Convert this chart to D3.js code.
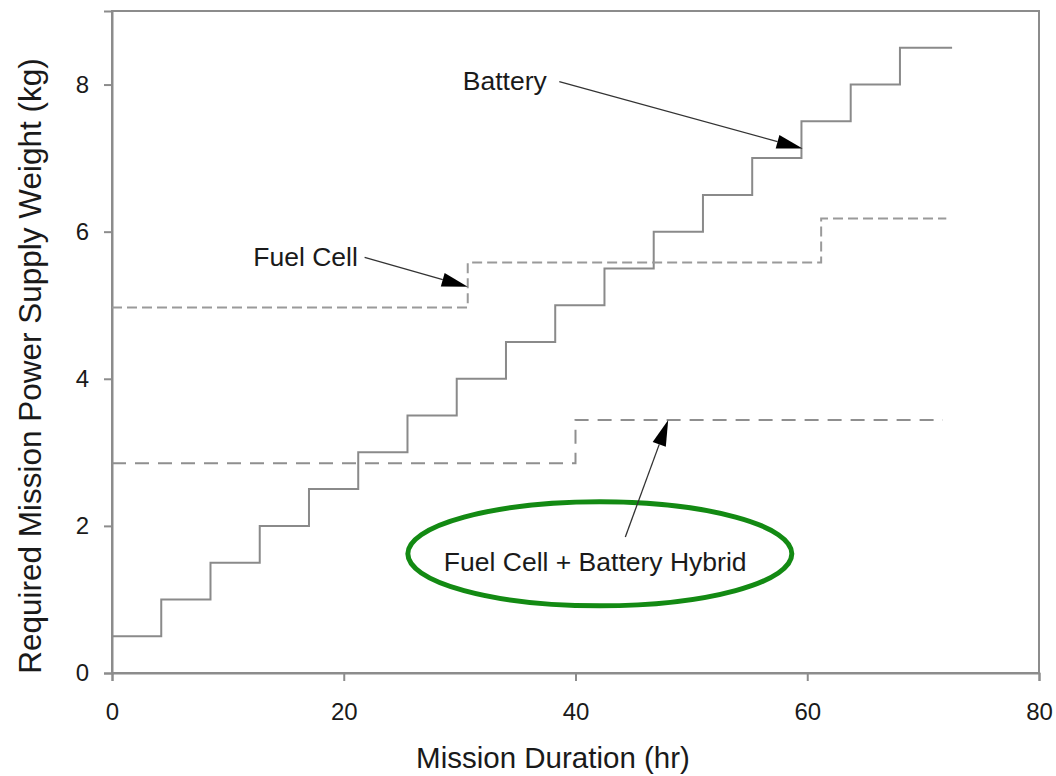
<!DOCTYPE html>
<html>
<head>
<meta charset="utf-8">
<script src="https://cdn.jsdelivr.net/npm/d3@7"></script>
<style>
  body { margin: 0; background: #fff; }
  svg { display: block; font-family: "Liberation Sans", Arial, sans-serif; }
</style>
</head>
<body>
<svg id="chart"></svg>
<script>
// step series: x = hour where a level starts, y = weight (kg)
const batteryX = [0, 4.25, 8.5, 12.75, 17, 21.25, 25.5, 29.75, 34, 38.25, 42.5, 46.75, 51, 55.25, 59.5, 63.75, 68, 72.5];
const batteryY = [0.5, 1, 1.5, 2, 2.5, 3, 3.5, 4, 4.5, 5, 5.5, 6, 6.5, 7, 7.5, 8, 8.5, 8.5];
const fuelCellX = [0, 30.7, 61.2, 72];
const fuelCellY = [4.97, 5.58, 6.18, 6.18];
const hybridX = [0, 40, 71.7];
const hybridY = [2.85, 3.44, 3.44];

const xTicks = [0, 20, 40, 60, 80];
const yTicks = [0, 2, 4, 6, 8];

// annotations: label position and arrow (from -> to) in data units
const annotations = [
  { text: "Battery", tx: 33.9, ty: 8.05, x1: 38.6, y1: 8.04, x2: 59.6, y2: 7.13 },
  { text: "Fuel Cell", tx: 16.7, ty: 5.66, x1: 21.8, y1: 5.65, x2: 30.7, y2: 5.25 },
  { text: "Fuel Cell + Battery Hybrid", tx: 41.7, ty: 1.51, x1: 44.3, y1: 1.85, x2: 48.0, y2: 3.44 }
];

const svgWidth = 1056;
const svgHeight = 776;
const margin = { top: 11, right: 17, bottom: 103, left: 112 };
const width = svgWidth - margin.left - margin.right;
const height = svgHeight - margin.top - margin.bottom;

const svg = d3.select("#chart").attr("width", svgWidth).attr("height", svgHeight);

const x = d3.scaleLinear().domain([0, 80]).range([margin.left, margin.left + width]);
const y = d3.scaleLinear().domain([0, 9]).range([margin.top + height, margin.top]);

// frame
svg.append("rect")
  .attr("x", margin.left).attr("y", margin.top)
  .attr("width", width).attr("height", height)
  .attr("fill", "none").attr("stroke", "#8c8c8c").attr("stroke-width", 2);

// axes
const xAxis = svg.append("g")
  .attr("transform", `translate(0, ${margin.top + height})`)
  .call(d3.axisBottom(x).tickValues(xTicks).tickSize(8).tickPadding(22));
const yAxis = svg.append("g")
  .attr("transform", `translate(${margin.left}, 0)`)
  .call(d3.axisLeft(y).tickValues(yTicks).tickSize(8).tickPadding(15));

[xAxis, yAxis].forEach(g => {
  g.select(".domain").attr("stroke", "#8c8c8c").attr("stroke-width", 2);
  g.selectAll(".tick line").attr("stroke", "#8c8c8c").attr("stroke-width", 2);
  g.selectAll(".tick text").attr("fill", "#1a1a1a").style("font-size", "24px")
    .style("font-family", "'Liberation Sans', Arial, sans-serif");
});

// axis titles
svg.append("text")
  .attr("x", 553).attr("y", 768)
  .attr("text-anchor", "middle")
  .attr("fill", "#1a1a1a")
  .style("font-size", "29.5px")
  .text("Mission Duration (hr)");

svg.append("text")
  .attr("transform", `translate(41, 366) rotate(-90)`)
  .attr("text-anchor", "middle")
  .attr("fill", "#1a1a1a")
  .style("font-size", "31.5px")
  .text("Required Mission Power Supply Weight (kg)");

// step lines
const step = d3.line().x(d => x(d[0])).y(d => y(d[1])).curve(d3.curveStepAfter);

svg.append("path")
  .datum(d3.zip(batteryX, batteryY))
  .attr("d", step)
  .attr("fill", "none").attr("stroke", "#8a8a8a").attr("stroke-width", 2);

svg.append("path")
  .datum(d3.zip(fuelCellX, fuelCellY))
  .attr("d", step)
  .attr("fill", "none").attr("stroke", "#9a9a9a").attr("stroke-width", 2)
  .attr("stroke-dasharray", "10,5");

svg.append("path")
  .datum(d3.zip(hybridX, hybridY))
  .attr("d", step)
  .attr("fill", "none").attr("stroke", "#8f8f8f").attr("stroke-width", 2)
  .attr("stroke-dasharray", "14,9");

// green ellipse round the hybrid label
svg.append("ellipse")
  .attr("cx", x(42.1)).attr("cy", y(1.62))
  .attr("rx", 192).attr("ry", 52)
  .attr("fill", "none").attr("stroke", "#138a13").attr("stroke-width", 5);

// annotations
annotations.forEach(a => {
  const sx = x(a.x1), sy = y(a.y1), ex = x(a.x2), ey = y(a.y2);
  const ang = Math.atan2(ey - sy, ex - sx);
  const headLen = 26, headW = 7;
  const bx = ex - headLen * Math.cos(ang), by = ey - headLen * Math.sin(ang);
  svg.append("line")
    .attr("x1", sx).attr("y1", sy).attr("x2", bx).attr("y2", by)
    .attr("stroke", "#333").attr("stroke-width", 1.3);
  svg.append("path")
    .attr("d", `M${ex},${ey}L${bx + headW * Math.sin(ang)},${by - headW * Math.cos(ang)}L${bx - headW * Math.sin(ang)},${by + headW * Math.cos(ang)}Z`)
    .attr("fill", "#000");
  svg.append("text")
    .attr("x", x(a.tx)).attr("y", y(a.ty))
    .attr("dy", "0.35em")
    .attr("text-anchor", "middle")
    .attr("fill", "#1a1a1a")
    .style("font-size", "26.5px")
    .text(a.text);
});
</script>
</body>
</html>
